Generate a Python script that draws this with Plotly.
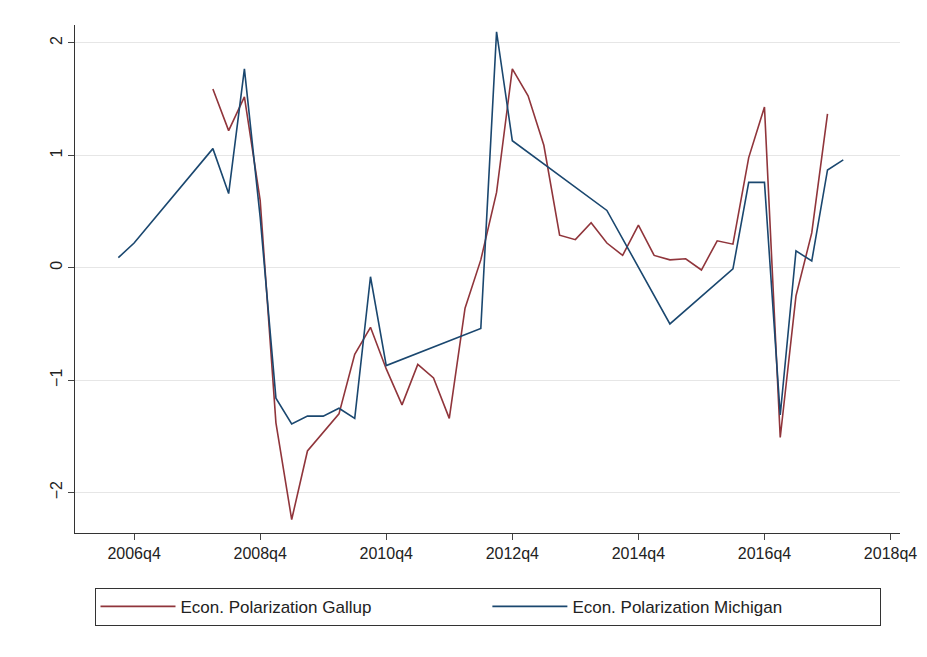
import plotly.graph_objects as go

# quarter index: 0 = 2006q4
gallup_t = list(range(5, 45))
gallup_v = [1.59, 1.22, 1.52, 0.6, -1.38, -2.24, -1.63, -1.46, -1.3, -0.77,
            -0.53, -0.9, -1.22, -0.86, -0.98, -1.34, -0.36, 0.07, 0.67, 1.77,
            1.53, 1.09, 0.29, 0.25, 0.4, 0.22, 0.11, 0.38, 0.11, 0.07,
            0.08, -0.02, 0.24, 0.21, 0.98, 1.43, -1.51, -0.25, 0.31, 1.37]

mich_t = [-1, 0, 5, 6, 7, 8, 9, 10, 11, 12, 13, 14, 15, 16, 22, 23, 24, 30, 34,
          38, 39, 40, 41, 42, 43, 44, 45]
mich_v = [0.09, 0.22, 1.06, 0.66, 1.77, 0.45, -1.16, -1.39, -1.32, -1.32, -1.25,
          -1.34, -0.08, -0.87, -0.54, 2.1, 1.13, 0.51, -0.5, -0.01, 0.76, 0.76,
          -1.31, 0.15, 0.06, 0.87, 0.96]

tick_vals = [0, 8, 16, 24, 32, 40, 48]
tick_text = ["2006q4", "2008q4", "2010q4", "2012q4", "2014q4", "2016q4", "2018q4"]

fig = go.Figure()
fig.add_trace(go.Scatter(x=gallup_t, y=gallup_v, mode="lines",
                         line=dict(color="#90353b", width=1.6),
                         name="Econ. Polarization Gallup"))
fig.add_trace(go.Scatter(x=mich_t, y=mich_v, mode="lines",
                         line=dict(color="#1a476f", width=1.6),
                         name="Econ. Polarization Michigan"))

fig.update_layout(
    width=911, height=641,
    paper_bgcolor="white", plot_bgcolor="white",
    margin=dict(l=67, r=19, t=17, b=116, autoexpand=False),
    font=dict(family="Liberation Sans, Arial", size=16, color="#222"),
    legend=dict(orientation="h", x=0.5, xanchor="center", y=-0.108, yanchor="top",
                bordercolor="#333", borderwidth=1, font=dict(size=17),
                itemwidth=75, entrywidth=0.475, entrywidthmode="fraction"),
)
fig.update_xaxes(range=[-3.75, 48.6], tickvals=tick_vals, ticktext=tick_text,
                 showgrid=False, showline=True, linecolor="#333", ticks="outside",
                 ticklen=6, zeroline=False, automargin=False)
fig.update_yaxes(range=[-2.36, 2.16], tickvals=[-2, -1, 0, 1, 2],
                 showgrid=True, gridcolor="#e6e6e6", showline=True, linecolor="#333",
                 ticks="outside", ticklen=6, tickangle=-90, zeroline=False,
                 automargin=False)

fig.write_html("out.html")
